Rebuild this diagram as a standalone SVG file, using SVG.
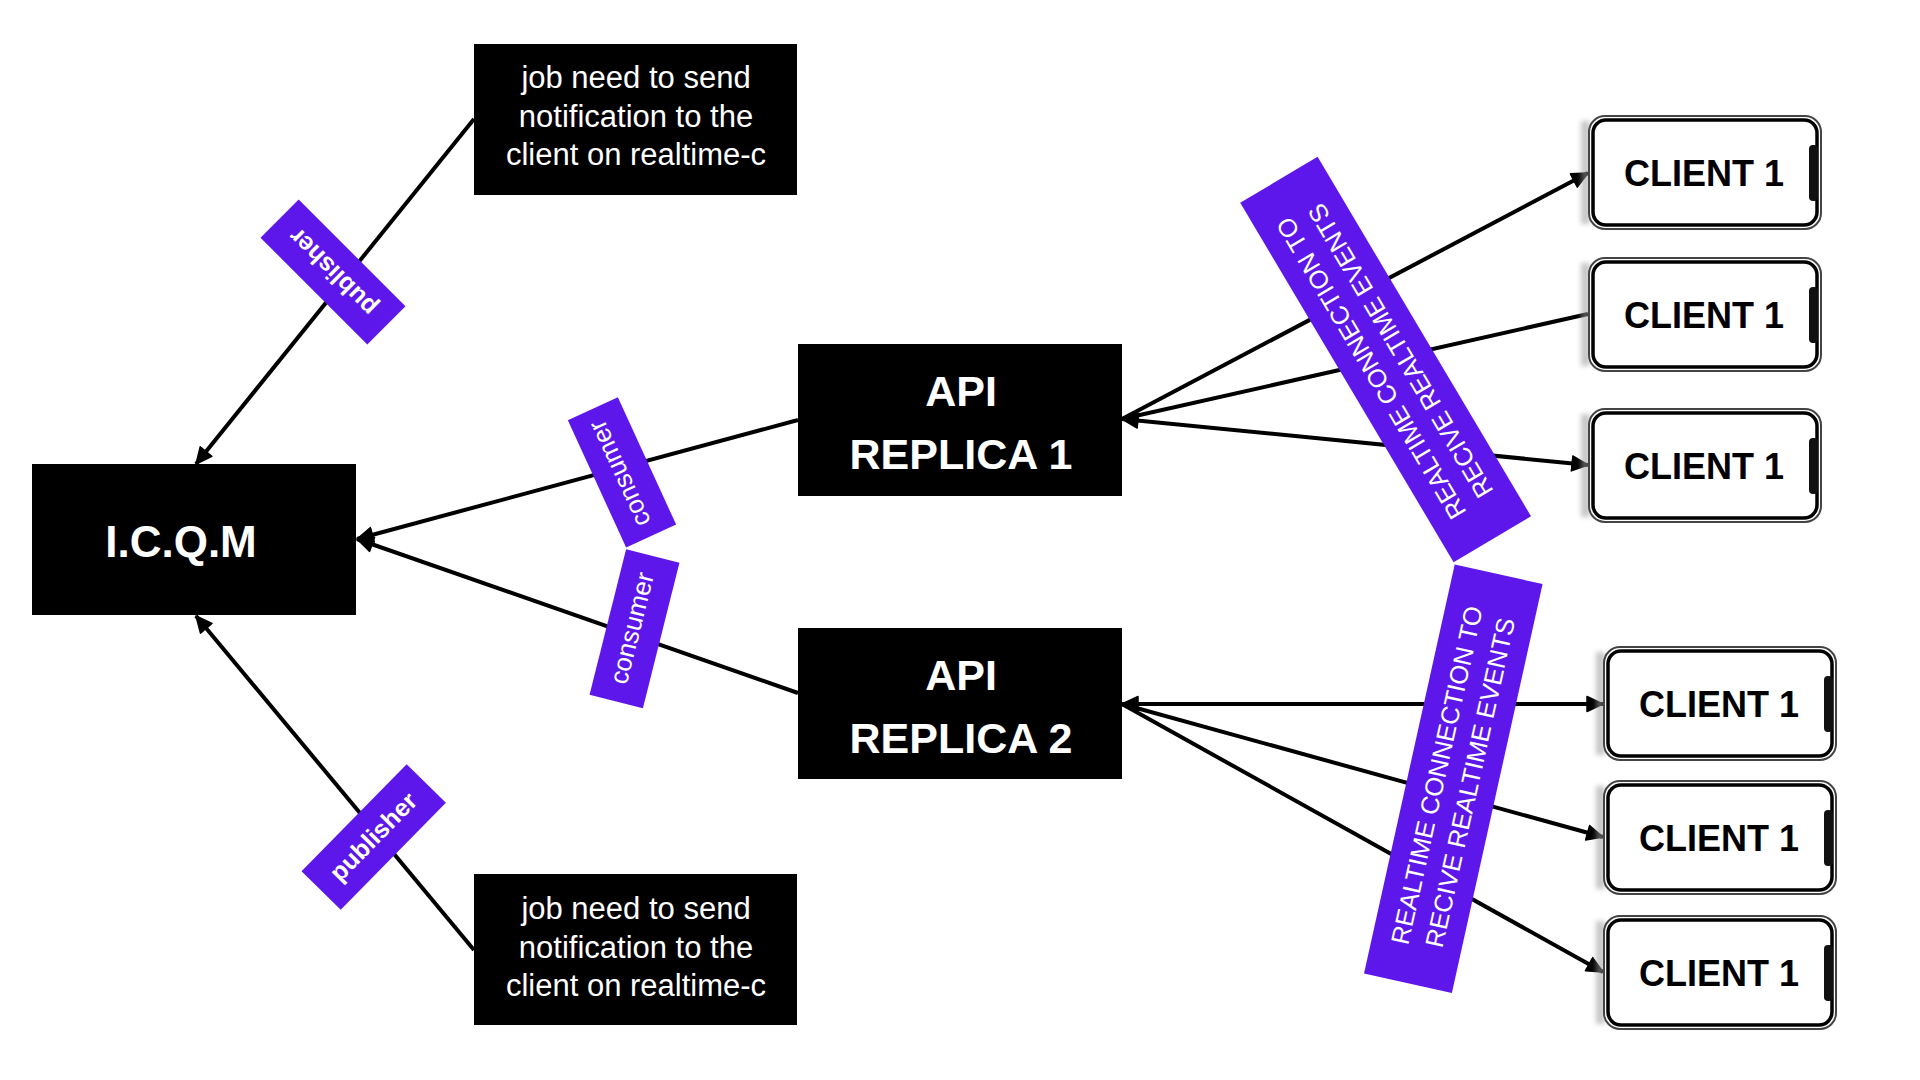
<svg xmlns="http://www.w3.org/2000/svg" xmlns:xlink="http://www.w3.org/1999/xlink" width="1920" height="1080" viewBox="0 0 1920 1080">
<style>
.box{fill:#000}
.jobtxt{font-family:"Liberation Sans",Arial,sans-serif;font-size:31px;fill:#fff;text-anchor:middle}
.bold{font-family:"Liberation Sans",Arial,sans-serif;font-weight:bold;fill:#fff;text-anchor:middle}
.client{font-family:"Liberation Sans",Arial,sans-serif;font-weight:bold;font-size:36px;fill:#000;text-anchor:middle}
.tag{fill:#5E17EB}
.tagtxt{font-family:"Liberation Sans",Arial,sans-serif;font-size:26px;fill:#fff;text-anchor:middle}
.tagbold{font-family:"Liberation Sans",Arial,sans-serif;font-weight:bold;font-size:25px;fill:#fff;text-anchor:middle}
.bigtxt{font-family:"Liberation Sans",Arial,sans-serif;font-size:25.5px;fill:#fff;text-anchor:middle}
.conn{stroke:#000;stroke-width:4;fill:none}
.arr{marker-end:url(#arrow)}
.arrs{marker-start:url(#arrow)}
</style>
<defs>
<marker id="arrow" markerUnits="userSpaceOnUse" viewBox="0 0 18 18" refX="17" refY="9" markerWidth="18" markerHeight="18" orient="auto-start-reverse">
<path d="M1,1.5 L17,9 L1,16.5 Z" fill="#000" stroke="#000" stroke-width="1.5" stroke-linejoin="round"/>
</marker>
<filter id="blur" x="-1" y="-0.2" width="3" height="1.4"><feGaussianBlur stdDeviation="2.5"/></filter>
<g id="phoneBody">
<rect x="-7" y="6" width="9" height="103" fill="#999" opacity="0.55" filter="url(#blur)"/>
<rect x="1" y="1" width="232" height="113" rx="16" fill="#fff" stroke="#444" stroke-width="2"/>
<rect x="5" y="5" width="224" height="105" rx="13" fill="#fff" stroke="#000" stroke-width="3.5"/>
<rect x="221" y="30" width="9" height="56" rx="4" fill="#111"/>
</g>
</defs>
<rect width="1920" height="1080" fill="#fff"/>

<g id="connectors">
<line class="conn arr" x1="474" y1="119" x2="196" y2="464"/>
<line class="conn arr" x1="474" y1="950" x2="196" y2="616"/>
<line class="conn arr" x1="798" y1="420" x2="357" y2="539"/>
<line class="conn arr" x1="798" y1="693" x2="357" y2="539"/>
<line class="conn arr" x1="1122" y1="419" x2="1588" y2="173"/>
<line class="conn" x1="1122" y1="419" x2="1588" y2="314"/>
<line class="conn arr arrs" x1="1122" y1="419" x2="1588" y2="465"/>
<line class="conn arr arrs" x1="1122" y1="704" x2="1603" y2="704"/>
<line class="conn arr" x1="1122" y1="704" x2="1603" y2="837"/>
<line class="conn arr" x1="1122" y1="704" x2="1603" y2="972"/>
</g>

<g id="job-top">
<rect class="box" x="474" y="44" width="323" height="151"/>
<text class="jobtxt" x="636" y="88">job need to send</text>
<text class="jobtxt" x="636" y="127">notification to the</text>
<text class="jobtxt" x="636" y="165">client on realtime-c</text>
</g>
<g id="job-bottom">
<rect class="box" x="474" y="874" width="323" height="151"/>
<text class="jobtxt" x="636" y="919">job need to send</text>
<text class="jobtxt" x="636" y="958">notification to the</text>
<text class="jobtxt" x="636" y="996">client on realtime-c</text>
</g>
<g id="icqm">
<rect class="box" x="32" y="464" width="324" height="151"/>
<text class="bold" x="181" y="557" font-size="44">I.C.Q.M</text>
</g>
<g id="api-replica-1">
<rect class="box" x="798" y="344" width="324" height="152"/>
<text class="bold" x="961" y="406" font-size="43">API</text>
<text class="bold" x="961" y="469" font-size="43">REPLICA 1</text>
</g>
<g id="api-replica-2">
<rect class="box" x="798" y="628" width="324" height="151"/>
<text class="bold" x="961" y="690" font-size="43">API</text>
<text class="bold" x="961" y="753" font-size="43">REPLICA 2</text>
</g>

<g id="client-1a" transform="translate(1588,115)"><use xlink:href="#phoneBody"/><text class="client" x="116" y="71">CLIENT 1</text></g>
<g id="client-1b" transform="translate(1588,257)"><use xlink:href="#phoneBody"/><text class="client" x="116" y="71">CLIENT 1</text></g>
<g id="client-1c" transform="translate(1588,408)"><use xlink:href="#phoneBody"/><text class="client" x="116" y="71">CLIENT 1</text></g>
<g id="client-2a" transform="translate(1603,646)"><use xlink:href="#phoneBody"/><text class="client" x="116" y="71">CLIENT 1</text></g>
<g id="client-2b" transform="translate(1603,780)"><use xlink:href="#phoneBody"/><text class="client" x="116" y="71">CLIENT 1</text></g>
<g id="client-2c" transform="translate(1603,915)"><use xlink:href="#phoneBody"/><text class="client" x="116" y="71">CLIENT 1</text></g>

<g id="label-publisher-top" transform="translate(333,272) rotate(225)">
<rect class="tag" x="-75.5" y="-27" width="151" height="54"/>
<text class="tagbold" x="0" y="8">publisher</text>
</g>
<g id="label-publisher-bottom" transform="translate(373.7,837) rotate(-45.5)">
<rect class="tag" x="-75" y="-27.5" width="150" height="55"/>
<text class="tagbold" x="0" y="8">publisher</text>
</g>
<g id="label-consumer-top" transform="translate(622,472.4) rotate(-114.6)">
<rect class="tag" x="-70" y="-27.5" width="140" height="55"/>
<text class="tagtxt" x="0" y="6">consumer</text>
</g>
<g id="label-consumer-bottom" transform="translate(634.5,628.8) rotate(-75.9)">
<rect class="tag" x="-75" y="-27.5" width="150" height="55"/>
<text class="tagtxt" x="0" y="6">consumer</text>
</g>
<g id="label-realtime-top" transform="translate(1385.6,359.5) rotate(-120.7)">
<rect class="tag" x="-209" y="-45" width="418" height="90"/>
<text class="bigtxt" x="0" y="-8">REALTIME CONNECTION TO</text>
<text class="bigtxt" x="0" y="26">RECIVE REALTIME EVENTS</text>
</g>
<g id="label-realtime-bottom" transform="translate(1453.3,778.8) rotate(-77.5)">
<rect class="tag" x="-209.5" y="-45" width="419" height="90"/>
<text class="bigtxt" x="0" y="-8">REALTIME CONNECTION TO</text>
<text class="bigtxt" x="0" y="26">RECIVE REALTIME EVENTS</text>
</g>
</svg>
